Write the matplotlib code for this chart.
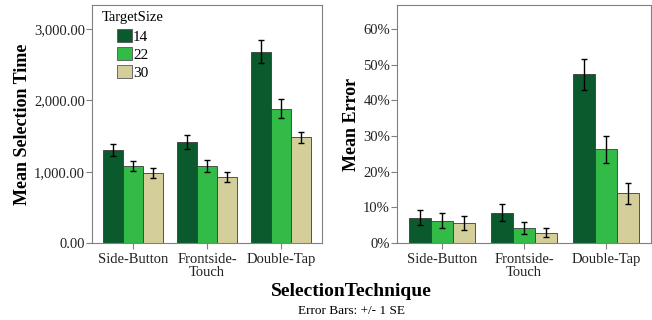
import matplotlib
matplotlib.use("Agg")
import matplotlib.pyplot as plt
import numpy as np

plt.rcParams['font.family'] = ['Liberation Serif', 'DejaVu Serif']

techniques = ["Side-Button", "Frontside-\nTouch", "Double-Tap"]
sizes = ["14", "22", "30"]
colors = ["#0b5a2e", "#33bb48", "#d4cf9a"]

time_mean = {
    "14": [1304, 1416, 2683],
    "22": [1080, 1080, 1884],
    "30": [977, 930, 1482],
}
time_se = {
    "14": [85, 100, 165],
    "22": [70, 85, 135],
    "30": [72, 70, 80],
}
err_mean = {
    "14": [0.071, 0.085, 0.473],
    "22": [0.062, 0.042, 0.263],
    "30": [0.056, 0.029, 0.139],
}
err_se = {
    "14": [0.021, 0.023, 0.044],
    "22": [0.021, 0.018, 0.038],
    "30": [0.019, 0.013, 0.030],
}

fig = plt.figure(figsize=(6.52, 3.2), dpi=100)
ax1 = fig.add_axes([92/652, 1-243/320, 230/652, 238/320])
ax2 = fig.add_axes([397/652, 1-243/320, 254/652, 238/320])

x = np.arange(len(techniques))
w = 0.27
frame_c = "#808080"

def draw(ax, means, ses):
    for i, s in enumerate(sizes):
        ax.bar(x + (i - 1) * w, means[s], w, color=colors[i], edgecolor="#3a3a3a",
               linewidth=0.6, label=s, zorder=2)
        ax.errorbar(x + (i - 1) * w, means[s], yerr=ses[s], fmt="none", ecolor="black",
                    elinewidth=1.0, capsize=2.5, capthick=1.0, zorder=3)
    ax.set_xlim(-0.55, 2.55)
    ax.set_xticks(x)
    ax.set_xticklabels(techniques, fontsize=10.5, linespacing=1.05)
    for sp in ax.spines.values():
        sp.set_color(frame_c)
    ax.tick_params(axis="both", colors=frame_c, labelcolor="#222222", direction="out",
                   length=4)
    ax.tick_params(axis="y", labelsize=10.5, pad=1)
    ax.tick_params(axis="x", pad=3)

draw(ax1, time_mean, time_se)
ax1.set_ylim(0, 3338)
ax1.set_yticks([0, 1000, 2000, 3000])
ax1.set_yticklabels(["0.00", "1,000.00", "2,000.00", "3,000.00"])
ax1.set_ylabel("Mean Selection Time", fontsize=13, fontweight="bold", labelpad=2)
leg = ax1.legend(loc="upper left", frameon=False, fontsize=11,
                 handlelength=0.95, handleheight=0.95,
                 handletextpad=0.1, labelspacing=0.2, borderaxespad=0.0,
                 borderpad=0.0,
                 bbox_to_anchor=((117-92)/230, (243-29)/238))
for p in leg.get_patches():
    p.set_edgecolor("#555555")
ax1.text((102-92)/230, (243-18)/238, "TargetSize", transform=ax1.transAxes,
         ha="left", va="center", fontsize=10.5)

draw(ax2, err_mean, err_se)
ax2.set_ylim(0, 0.667)
ax2.set_yticks([0, 0.1, 0.2, 0.3, 0.4, 0.5, 0.6])
ax2.set_yticklabels(["0%", "10%", "20%", "30%", "40%", "50%", "60%"])
ax2.set_ylabel("Mean Error", fontsize=13, fontweight="bold", labelpad=2)

fig.text(351/652, 1-292/320, "SelectionTechnique", ha="center", va="center",
         fontsize=14, fontweight="bold")
fig.text(351/652, 1-311/320, "Error Bars: +/- 1 SE", ha="center", va="center",
         fontsize=9.5)

fig.savefig("out.png", dpi=100)
